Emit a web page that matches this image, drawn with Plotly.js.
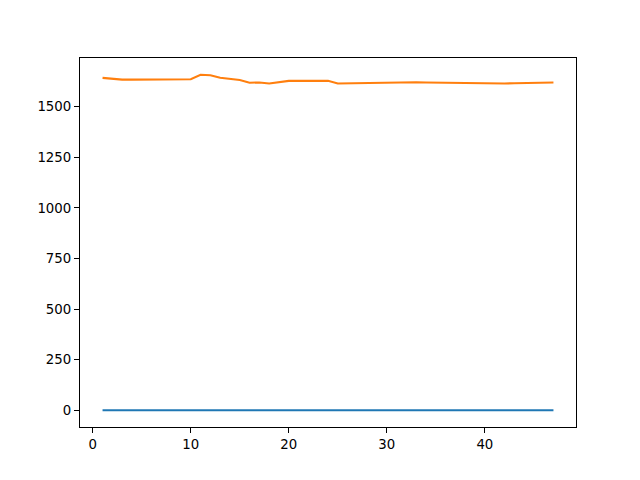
<!DOCTYPE html>
<html>
<head>
<meta charset="utf-8">
<script src="https://cdn.plot.ly/plotly-3.0.1.min.js"></script>
<style>html,body{margin:0;padding:0;background:#fff;}</style>
</head>
<body>
<div id="chart" style="width:640px;height:480px;"></div>
<script>
const xValues = [1,2,3,4,5,6,7,8,9,10,11,12,13,14,15,16,17,18,19,20,21,22,23,24,25,26,27,28,29,30,31,32,33,34,35,36,37,38,39,40,41,42,43,44,45,46,47];
const seriesBlue = [0,0,0,0,0,0,0,0,0,0,0,0,0,0,0,0,0,0,0,0,0,0,0,0,0,0,0,0,0,0,0,0,0,0,0,0,0,0,0,0,0,0,0,0,0,0,0];
const seriesOrange = [1643,1638,1634,1634,1634,1634,1634,1634,1636,1636,1658,1656,1643,1636,1632,1619,1620,1615,1620,1628,1628,1628,1628,1628,1615,1616,1617,1618,1619,1620,1621,1621,1621,1620,1619,1618,1617,1616,1615,1615,1615,1615,1616,1617,1618,1619,1620];
const xTicks = [0,10,20,30,40];
const yTicks = [0,250,500,750,1000,1250,1500];

const traces = [
  {x: xValues, y: seriesBlue, type: 'scatter', mode: 'lines', line: {color: '#1f77b4', width: 2.1}, hoverinfo: 'skip'},
  {x: xValues, y: seriesOrange, type: 'scatter', mode: 'lines', line: {color: '#ff7f0e', width: 2.1}, hoverinfo: 'skip'}
];
const axisCommon = {
  showline: true, mirror: true, linecolor: '#000', linewidth: 1.1,
  showgrid: false, zeroline: false,
  ticks: 'outside', ticklen: 5, tickwidth: 1.1, tickcolor: '#000',
  tickfont: {family: 'DejaVu Sans', size: 13.3, color: '#000'}
};
const layout = {
  width: 640, height: 480,
  margin: {l: 80, r: 64, t: 58, b: 53, pad: 0},
  paper_bgcolor: '#fff', plot_bgcolor: '#fff',
  showlegend: false,
  xaxis: Object.assign({}, axisCommon, {range: [-1.3, 49.3], tickvals: xTicks, ticktext: xTicks.map(String)}),
  yaxis: Object.assign({}, axisCommon, {range: [-83, 1741], tickvals: yTicks, ticktext: yTicks.map(String)})
};
Plotly.newPlot('chart', traces, layout, {staticPlot: true, displayModeBar: false});
</script>
</body>
</html>
